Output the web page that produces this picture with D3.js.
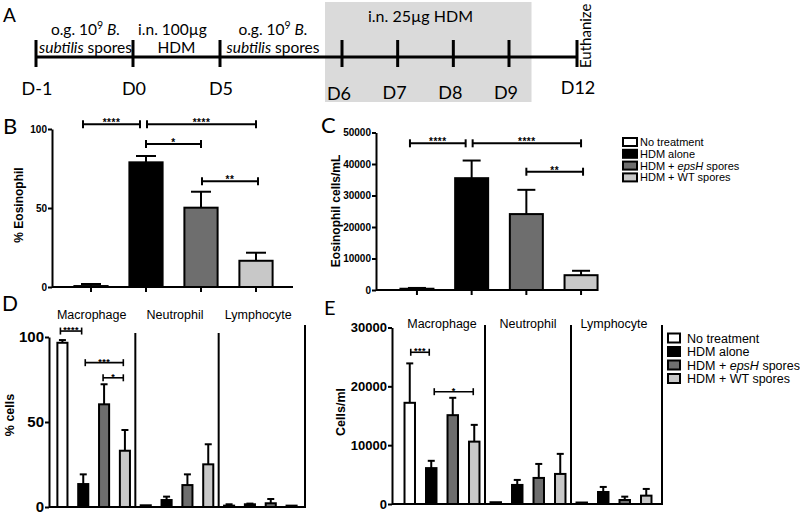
<!DOCTYPE html>
<html><head><meta charset="utf-8">
<script src="https://cdn.jsdelivr.net/npm/d3@7"></script>
<style>body{margin:0;background:#fff}svg{display:block}</style>
</head><body><svg id="c" width="800" height="515"></svg>
<script>
// ---------- DATA ----------
const groups = ["No treatment","HDM alone","HDM + epsH spores","HDM + WT spores"];
const cellTypes = ["Macrophage","Neutrophil","Lymphocyte"];
const tlDays = [-1,0,5,6,7,8,9,12];
const bMean = [0.6,78.9,50.2,16.6];
const bSem  = [1.3,4.0,10.1,5.1];
const cMean = [400,35500,24100,4700];
const cSem  = [250,5600,7700,1400];
const dMean = [[96.6,13.5,60.4,33.1],[1.0,4.1,12.9,25.1],[0.8,1.6,2.2,0.8]];
const dSem  = [[1.6,5.7,11.8,12.2],[0,2.0,6.3,11.8],[0.8,0.4,2.5,0]];
const eMean = [[17200,6100,15100,10600],[300,3240,4430,5110],[250,2040,680,1420]];
const eSem  = [[6700,1240,2950,2850],[0,850,2380,3410],[0,860,570,1140]];
const bTicks = [0,50,100];
const cTicks = [0,10000,20000,30000,40000,50000];
const dTicks = [0,50,100];
const eTicks = [0,10000,20000,30000];
const bSig = [{a:0,b:1,y:103,t:"****"},{a:1,b:3,y:103,t:"****"},{a:1,b:2,y:90.5,t:"*"},{a:2,b:3,y:67,t:"**"}];
const cSig = [{a:0,b:1,y:46570,t:"****"},{a:1,b:3,y:46570,t:"****"},{a:2,b:3,y:37550,t:"**"}];
const dSig = [{a:0,b:1,y:103.5,t:"****"},{a:1,b:3,y:84.9,t:"***"},{a:2,b:3,y:76,t:"*"}];
const eSig = [{a:0,b:1,y:25790,t:"***"},{a:1,b:3,y:19090,t:"*"}];

// ---------- STYLE ----------
const fills = ["#ffffff","#000000","#6e6e6e","#c8c8c8"];
const SANS = "'Liberation Sans', Arial, sans-serif";
const CAL = "Lato, 'Open Sans', sans-serif";
const svg = d3.select("#c");

// ---------- PANEL A : timeline ----------
const tl = d3.scaleLinear().domain([-1,0,5,6,9,12]).range([36,133,220,342,509,577]);
const A = svg.append("g");
const AFS = 15.5;
A.append("rect").attr("x", tl(6)-17).attr("y",2).attr("width", tl(9)+22.5-(tl(6)-17)).attr("height",100).attr("fill","#dadada");
A.append("line").attr("x1",tl(-1)).attr("x2",tl(12)).attr("y1",57).attr("y2",57).attr("stroke","#000").attr("stroke-width",3);
A.selectAll(".tk").data(tlDays).join("line").attr("x1",d=>tl(d)).attr("x2",d=>tl(d)).attr("y1",40).attr("y2",67).attr("stroke","#000").attr("stroke-width",3);
A.selectAll(".dl").data(tlDays).join("text").attr("x",d=>tl(d)+(d>=6&&d<=9?-3:1)).attr("y",d=>d<6?95:(d===6?100:(d===12?94:99)))
  .attr("text-anchor","middle").attr("font-family",CAL).attr("font-size",18).text(d=>"D"+d);
function sporesText(cx){
  const t1 = A.append("text").attr("x",cx).attr("y",35).attr("text-anchor","middle").attr("font-family",CAL).attr("font-size",AFS);
  t1.append("tspan").text("o.g. 10");
  t1.append("tspan").attr("dy",-6).attr("font-size",10.5).text("9");
  t1.append("tspan").attr("dy",6).text(" ");
  t1.append("tspan").attr("font-style","italic").text("B.");
  const t2 = A.append("text").attr("x",cx).attr("y",53).attr("text-anchor","middle").attr("font-family",CAL).attr("font-size",AFS);
  t2.append("tspan").attr("font-style","italic").text("subtilis");
  t2.append("tspan").text(" spores");
}
sporesText((tl(-1)+tl(0))/2+1);
sporesText((tl(5)+tl(6))/2-8);
A.append("text").attr("x",(tl(0)+tl(5))/2-4).attr("y",35).attr("text-anchor","middle").attr("font-family",CAL).attr("font-size",AFS).text("i.n. 100µg");
A.append("text").attr("x",(tl(0)+tl(5))/2).attr("y",53).attr("text-anchor","middle").attr("font-family",CAL).attr("font-size",AFS).text("HDM");
A.append("text").attr("x",(tl(6)+tl(9))/2-5).attr("y",22).attr("text-anchor","middle").attr("font-family",CAL).attr("font-size",16).text("i.n. 25µg HDM");
A.append("text").attr("transform",`translate(${tl(12)+14},68) rotate(-90)`).attr("font-family",CAL).attr("font-size",15).text("Euthanize");

// panel letters
[["A",3,22,19],["B",3,134,22],["C",321,133,22],["D",2,311,21],["E",324,315,20]].forEach(([t,x,y,fs])=>{
  svg.append("text").attr("x",x).attr("y",y).attr("font-family",CAL).attr("font-size",fs).text(t);
});

// ---------- helpers ----------
function yAxis(g, y, ticks, x, fs){
  const ax = g.append("g").attr("transform",`translate(${x},0)`)
    .call(d3.axisLeft(y).tickValues(ticks).tickSize(4).tickSizeOuter(0).tickPadding(1).tickFormat(d3.format("d")));
  ax.select(".domain").attr("stroke","#000").attr("stroke-width",2);
  ax.selectAll(".tick line").attr("stroke","#000").attr("stroke-width",2);
  ax.selectAll("text").attr("font-family",SANS).attr("font-weight","bold").attr("font-size",fs).attr("fill","#000");
}
function yTitle(g, text, cx, cy, fs){
  g.append("text").attr("transform",`translate(${cx},${cy}) rotate(-90)`).attr("text-anchor","middle")
   .attr("dominant-baseline","central").attr("font-family",SANS).attr("font-weight","bold").attr("font-size",fs).text(text);
}
function drawBars(g, items, y, capW){
  g.selectAll(null).data(items).join("rect")
    .attr("x",d=>d.cx-d.w/2+1).attr("width",d=>d.w-2)
    .attr("y",d=>y(d.v)).attr("height",d=>Math.max(0.5,y(0)-y(d.v)))
    .attr("fill",d=>d.fill).attr("stroke","#000").attr("stroke-width",2);
  const eb = items.filter(d=>d.e>0);
  g.selectAll(null).data(eb).join("line").attr("x1",d=>d.cx).attr("x2",d=>d.cx)
    .attr("y1",d=>y(d.v)).attr("y2",d=>y(d.v+d.e)).attr("stroke","#000").attr("stroke-width",2);
  g.selectAll(null).data(eb).join("line").attr("x1",d=>d.cx-capW/2).attr("x2",d=>d.cx+capW/2)
    .attr("y1",d=>y(d.v+d.e)).attr("y2",d=>y(d.v+d.e)).attr("stroke","#000").attr("stroke-width",2);
}
function drawSig(g, sigs, centers, y, offs, tickH, fs, sw){
  sigs.forEach((s,i)=>{
    const x1 = centers[s.a]+offs[i][0], x2 = centers[s.b]+offs[i][1], yy = y(s.y);
    g.append("line").attr("x1",x1).attr("x2",x2).attr("y1",yy).attr("y2",yy).attr("stroke","#000").attr("stroke-width",sw);
    [x1,x2].forEach(x=>g.append("line").attr("x1",x).attr("x2",x).attr("y1",yy-tickH).attr("y2",yy+tickH).attr("stroke","#000").attr("stroke-width",sw));
    g.append("text").attr("x",(x1+x2)/2).attr("y",yy+2).attr("text-anchor","middle").attr("font-family",SANS).attr("font-weight","bold")
      .attr("font-size",fs).attr("letter-spacing",fs*0.05).text(s.t);
  });
}
function legendText(sel, t){
  const parts = t.split(/(epsH)/);
  parts.forEach(p=>{ if(p) sel.append("tspan").attr("font-style",p==="epsH"?"italic":null).text(p); });
}
function legend(g, x, y0, step, bw, bh, tx, fs){
  groups.forEach((gname,i)=>{
    const cy = y0+i*step;
    g.append("rect").attr("x",x+1).attr("y",cy-bh/2).attr("width",bw-2).attr("height",bh).attr("fill",fills[i]).attr("stroke","#000").attr("stroke-width",2);
    const t = g.append("text").attr("x",tx).attr("y",cy+fs*0.36).attr("font-family",SANS).attr("font-size",fs);
    legendText(t,gname);
  });
}

// ---------- PANEL B ----------
(function(){
  const g = svg.append("g");
  const y = d3.scaleLinear().domain([0,100]).range([287,129]);
  const x = d3.scaleBand().domain(groups).range([63.5,283.5]).paddingInner(0.36).paddingOuter(0.18);
  const centers = groups.map(k=>x(k)+x.bandwidth()/2);
  drawBars(g, groups.map((k,i)=>({cx:centers[i],w:x.bandwidth(),v:bMean[i],e:bSem[i],fill:fills[i]})), y, 20);
  g.append("line").attr("x1",52).attr("x2",293).attr("y1",y(0)).attr("y2",y(0)).attr("stroke","#000").attr("stroke-width",2);
  g.selectAll(null).data(centers).join("line").attr("x1",d=>d).attr("x2",d=>d).attr("y1",y(0)).attr("y2",y(0)+5).attr("stroke","#000").attr("stroke-width",2);
  yAxis(g,y,bTicks,52,10);
  yTitle(g,"% Eosinophil",19,205,12);
  drawSig(g,bSig,centers,y,[[-8,-6],[1,0],[0,0],[1,2]],4,10,2);
})();

// ---------- PANEL C ----------
(function(){
  const g = svg.append("g");
  const y = d3.scaleLinear().domain([0,50000]).range([290,132.5]);
  const x = d3.scaleBand().domain(groups).range([389.6,608.4]).paddingInner(0.36).paddingOuter(0.18);
  const centers = groups.map(k=>x(k)+x.bandwidth()/2);
  drawBars(g, groups.map((k,i)=>({cx:centers[i],w:x.bandwidth(),v:cMean[i],e:cSem[i],fill:fills[i]})), y, 18);
  g.append("line").attr("x1",376).attr("x2",598).attr("y1",y(0)).attr("y2",y(0)).attr("stroke","#000").attr("stroke-width",2);
  g.selectAll(null).data(centers).join("line").attr("x1",d=>d).attr("x2",d=>d).attr("y1",y(0)).attr("y2",y(0)+5).attr("stroke","#000").attr("stroke-width",2);
  yAxis(g,y,cTicks,376,10);
  yTitle(g,"Eosinophil cells/mL",336,211,12);
  drawSig(g,cSig,centers,y,[[-7,-6],[1,0],[0,2]],4,10,2);
  legend(g,622,142,11.8,16,8,640,11);
})();

// ---------- PANEL D / E ----------
function grouped(cfg){
  const g = svg.append("g");
  const y = d3.scaleLinear().domain([0,cfg.max]).range([cfg.y0,cfg.yTop]);
  const x0 = d3.scaleBand().domain(cellTypes).range(cfg.xr);
  const x1 = d3.scaleBand().domain(groups).range([0,x0.bandwidth()]).paddingInner(0.42).paddingOuter(0.21);
  const items = [];
  cellTypes.forEach((ct,ci)=>groups.forEach((gr,gi)=>{
    items.push({cx:x0(ct)+x1(gr)+x1.bandwidth()/2,w:x1.bandwidth(),v:cfg.mean[ci][gi],e:cfg.sem[ci][gi],fill:fills[gi]});
  }));
  drawBars(g, items, y, 7);
  cellTypes.slice(1).forEach(ct=>{
    g.append("line").attr("x1",x0(ct)).attr("x2",x0(ct)).attr("y1",cfg.divTop).attr("y2",y(0)).attr("stroke","#000").attr("stroke-width",2);
  });
  g.append("line").attr("x1",cfg.rightX).attr("x2",cfg.rightX).attr("y1",cfg.rightTop).attr("y2",y(0)+1).attr("stroke","#000").attr("stroke-width",2);
  g.append("line").attr("x1",cfg.axX).attr("x2",cfg.rightX+1).attr("y1",y(0)).attr("y2",y(0)).attr("stroke","#000").attr("stroke-width",2);
  yAxis(g,y,cfg.ticks,cfg.axX,cfg.tfs);
  cellTypes.forEach(ct=>{
    g.append("text").attr("x",x0(ct)+x0.bandwidth()/2+cfg.labDx).attr("y",cfg.labY).attr("text-anchor","middle")
     .attr("font-family",SANS).attr("font-size",12.5).text(ct);
  });
  const centers = items.slice(0,4).map(d=>d.cx);
  drawSig(g,cfg.sig,centers,y,cfg.sigOff,3.5,9,1.6);
  return g;
}
grouped({max:100,y0:507,yTop:337,xr:[52,302],mean:dMean,sem:dSem,divTop:333,rightX:305,rightTop:325,axX:49,ticks:dTicks,tfs:15,
  labY:319,labDx:-2,sig:dSig,sigOff:[[-2,-1.6],[2,-1.6],[-1,-1.6]]});
yTitle(svg,"% cells",10,415,12.5);
const gE = grouped({max:30000,y0:504,yTop:327.5,xr:[399,657],mean:eMean,sem:eSem,divTop:325,rightX:662,rightTop:325,axX:392,ticks:eTicks,tfs:13,
  labY:328,labDx:0,sig:eSig,sigOff:[[1,-2],[3,-1]]});
yTitle(svg,"Cells/ml",341,412,12.5);
legend(gE,667,338,13.5,14,9,687,12.5);
</script></body></html>
